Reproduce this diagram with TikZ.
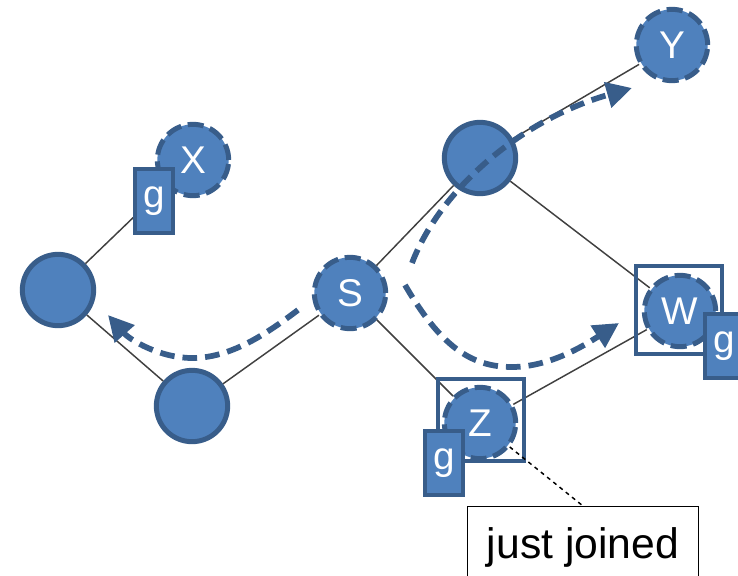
\documentclass[tikz,border=0pt]{standalone}
\usepackage{fontspec}
\setmainfont{Liberation Sans}
\usetikzlibrary{arrows.meta,positioning}
\definecolor{peerfill}{RGB}{79,129,189}
\definecolor{peerline}{RGB}{56,93,138}
\definecolor{linkgray}{RGB}{64,64,64}

\begin{document}
\begin{tikzpicture}[
  x=0.75pt,y=-0.75pt,
  font=\fontsize{29}{32}\selectfont,
  peer/.style={circle,draw=peerline,fill=peerfill,line width=3.75pt,minimum size=53.5pt,inner sep=0pt,text=white},
  member/.style={peer,dash pattern=on 12pt off 5pt},
  gbox/.style={draw=peerline,fill=peerfill,line width=3pt,minimum width=28pt,minimum height=48pt,inner sep=0pt,text=white},
  joinbox/.style={draw=peerline,line width=3.2pt,minimum width=64.5pt,inner sep=0pt},
  link/.style={draw=linkgray,line width=1.1pt},
  route/.style={draw=peerline,line width=4.3pt,dash pattern=on 11pt off 6pt,-{Triangle[length=19pt,width=19pt]}}
]
\useasboundingbox (0,0) rectangle (738,575);

% overlay peers
\node[peer] (left) at (58,290) {};
\node[peer] (bottom) at (192,406) {};
\node[member] (S) at (350,293) {S};
\node[peer] (top) at (480,158) {};
\node[member] (Y) at (672,45) {Y};
\node[member] (X) at (193,160) {X};
\node[member] (W) at (680,311) {W};
\node[member] (Z) at (480,423) {Z};

% overlay links
\foreach \a/\b in {left/X,left/bottom,bottom/S,S/top,S/Z,top/Y,top/W,Z/W}
  \draw[link] (\a) -- (\b);

% newly joined members
\node[joinbox,minimum height=61.5pt] (Zbox) at (481,420) {};
\node[joinbox,minimum height=66pt] (Wbox) at (679,310) {};

% group tags
\node[gbox] (gX) at (154,201) {g};
\node[gbox] (gZ) at (444,463) {g};
\node[gbox] (gW) at (724,346) {g};

% callout
\node[draw,line width=1.1pt,minimum width=173pt,inner sep=0pt,text height=39pt,text depth=40pt,
  anchor=north,font=\fontsize{32}{36}\selectfont] (note) at (583,506) {just joined};
\draw[dashed,line width=1.1pt] (Z) -- (note.north);

% message routes out of S
\coordinate (toLeft) at (298,310);
\coordinate (toLeftEnd) at (108,315);
\coordinate (toW) at (405,285);
\coordinate (toWEnd) at (619,323);
\coordinate (toY) at (412,263);
\coordinate (toYEnd) at (632,88);
\draw[route] (toLeft) .. controls (265,335) and (230,358) .. (192,358)
  .. controls (160,358) and (130,340) .. (toLeftEnd);
\draw[route] (toW) .. controls (440,345) and (470,367) .. (512,367)
  .. controls (550,367) and (585,345) .. (toWEnd);
\draw[route] (toY) .. controls (440,190) and (520,120) .. (toYEnd);
\end{tikzpicture}
\end{document}
